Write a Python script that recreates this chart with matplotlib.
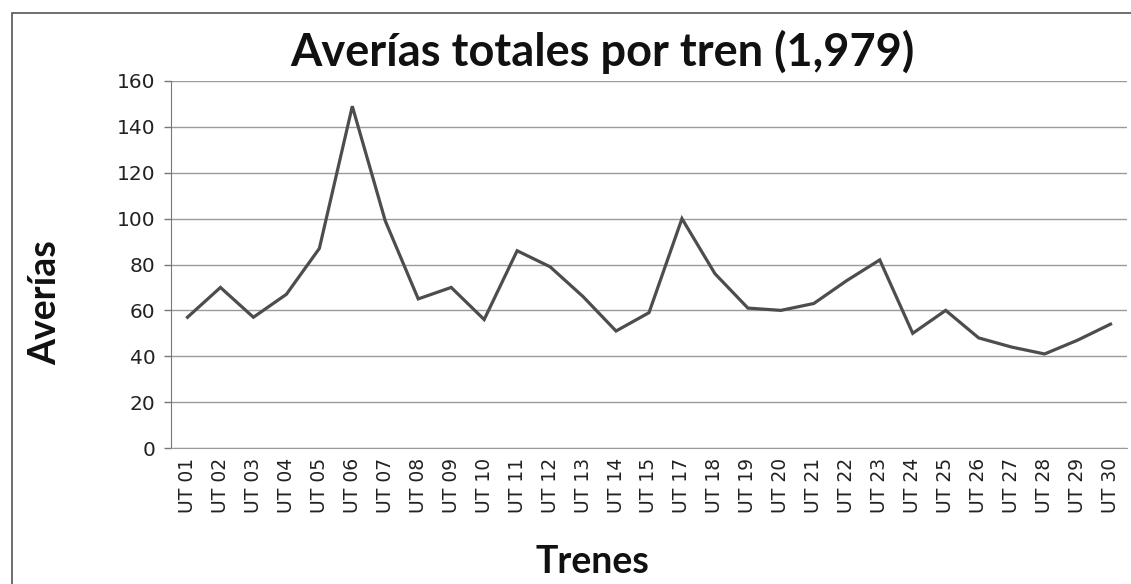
import matplotlib
matplotlib.use("Agg")
import matplotlib.pyplot as plt
from matplotlib.patches import Rectangle

trenes = ["UT 01", "UT 02", "UT 03", "UT 04", "UT 05", "UT 06", "UT 07", "UT 08",
          "UT 09", "UT 10", "UT 11", "UT 12", "UT 13", "UT 14", "UT 15", "UT 17",
          "UT 18", "UT 19", "UT 20", "UT 21", "UT 22", "UT 23", "UT 24", "UT 25",
          "UT 26", "UT 27", "UT 28", "UT 29", "UT 30"]
averias = [57, 70, 57, 67, 87, 149, 99, 65, 70, 56, 86, 79, 66, 51, 59, 100,
           76, 61, 60, 63, 73, 82, 50, 60, 48, 44, 41, 47, 54]
yticks = [0, 20, 40, 60, 80, 100, 120, 140, 160]

W, H = 1131, 584
fig = plt.figure(figsize=(W / 100, H / 100), dpi=100)
fig.patch.set_facecolor("white")

# outer chart border
fig.patches.append(Rectangle((12 / W, -0.05), 1.1, 1 - 13 / H + 0.05,
                             transform=fig.transFigure, fill=False,
                             edgecolor="#555555", linewidth=1.2))

ax = fig.add_axes([171 / W, 1 - 448 / H, (1127 - 171) / W, (448 - 81) / H])
x = list(range(len(trenes)))
ax.plot(x, averias, color="#4d4d4d", linewidth=2.3, solid_joinstyle="miter")

ax.set_xlim(-0.5, len(trenes) - 0.5)
ax.set_ylim(0, 160)
ax.set_yticks(yticks)
ax.set_yticklabels([str(v) for v in yticks], fontsize=14.5, color="#222222",
                   family="DejaVu Sans")
ax.set_xticks(x)
ax.set_xticklabels(trenes, rotation=90, fontsize=13.5, color="#222222",
                   family="DejaVu Sans")
ax.tick_params(axis="y", length=5, width=1, color="#777777", pad=6)
ax.tick_params(axis="x", length=0, pad=7)

ax.grid(axis="y", color="#9a9a9a", linewidth=1.0)
ax.set_axisbelow(True)
for s in ["top", "right"]:
    ax.spines[s].set_visible(False)
ax.spines["left"].set_color("#777777")
ax.spines["bottom"].set_color("#9a9a9a")

fig.text(602 / W, 1 - 52 / H, "Averías totales por tren (1,979)", ha="center",
         va="center", fontsize=32.5, fontweight="bold", family="Lato", color="#111111")
fig.text(45 / W, 1 - 303 / H, "Averías", ha="center", va="center", rotation=90,
         fontsize=27, fontweight="bold", family="Lato", color="#111111")
fig.text(592 / W, 1 - 562 / H, "Trenes", ha="center", va="center",
         fontsize=27, fontweight="bold", family="Lato", color="#111111")

fig.savefig("out.png", dpi=100)
